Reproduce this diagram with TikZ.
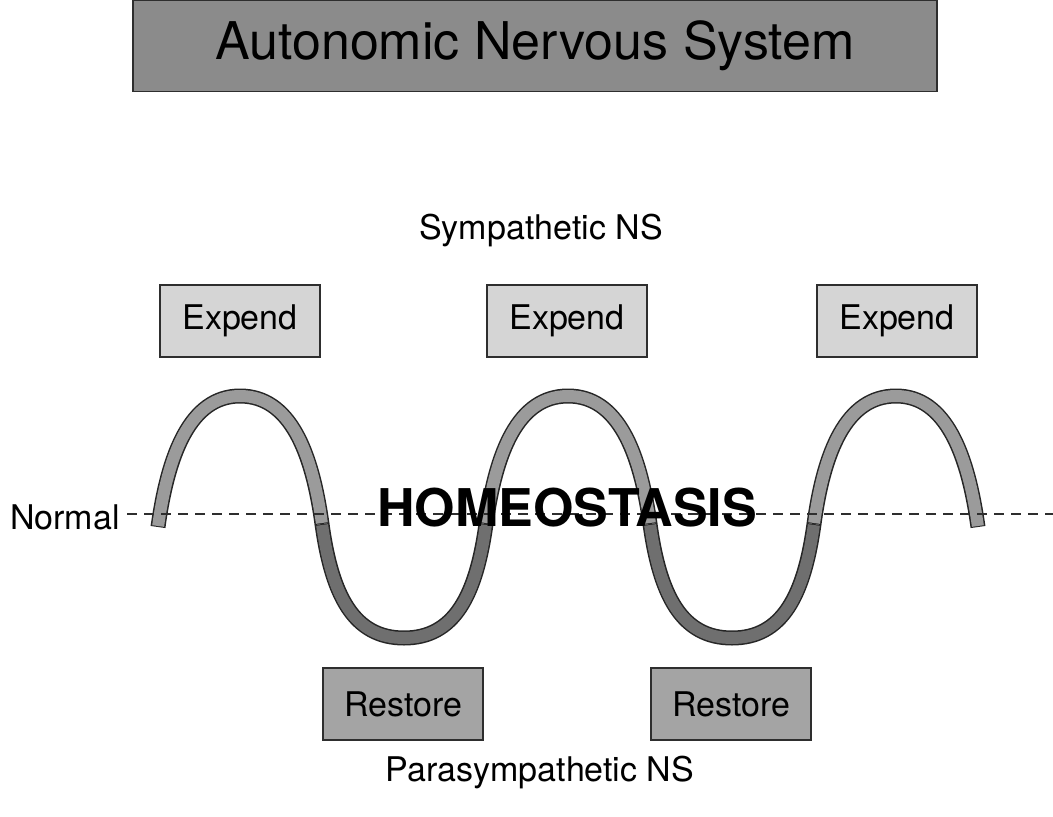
\documentclass[tikz,border=0pt]{standalone}
\usepackage{fontspec}
\setmainfont{TeX Gyre Heros}
\definecolor{titlefill}{HTML}{8B8B8B}
\definecolor{expendfill}{HTML}{D5D5D5}
\definecolor{restorefill}{HTML}{A4A4A4}
\definecolor{upperband}{HTML}{9B9B9B}
\definecolor{lowerband}{HTML}{6F6F6F}
\definecolor{edgegray}{HTML}{2E2E2E}

% half waves of the oscillation: an arch above the normal line, a trough below it
\newcommand\archseg[3]{(#1) .. controls +(10,-72) and +(-50,0) .. (#2) .. controls +(50,0) and +(-10,-72) .. (#3)}
\newcommand\troughseg[3]{(#1) .. controls +(10,72) and +(-50,0) .. (#2) .. controls +(50,0) and +(-10,72) .. (#3)}

\begin{document}
\begin{tikzpicture}[x=1pt,y=-1pt,
  bodytext/.style={font=\fontsize{34}{40}\selectfont, inner sep=0pt},
  titlebox/.style={draw=edgegray, line width=1.8pt, fill=titlefill,
    minimum width=804pt, minimum height=91pt, inner sep=0pt,
    font=\fontsize{52}{60}\selectfont},
  expendbox/.style={draw=edgegray, line width=1.8pt, fill=expendfill,
    minimum width=160pt, minimum height=72pt, inner sep=0pt,
    font=\fontsize{34}{40}\selectfont},
  restorebox/.style={expendbox, fill=restorefill},
  bandedge/.style={draw=black!85, line width=15pt, line cap=butt},
  bandup/.style={draw=upperband, line width=12pt, line cap=butt,
    shorten <=1pt, shorten >=1pt},
  banddown/.style={bandup, draw=lowerband},
  normalline/.style={draw=edgegray, line width=1.8pt, dash pattern=on 10pt off 7pt}
]
\useasboundingbox (0,0) rectangle (1053,817);

% heading
\node[titlebox] (title) at (535,46) {Autonomic Nervous System};

% branch labels
\node[bodytext] (symp) at (541,231) {Sympathetic NS};
\node[bodytext] (parasymp) at (540,772) {Parasympathetic NS};

% expend / restore boxes over the crests and troughs
\node[expendbox] (exp1) at (240,321) {Expend};
\node[expendbox] (exp2) at (567,321) {Expend};
\node[expendbox] (exp3) at (897,321) {Expend};
\node[restorebox] (res1) at (403,704) {Restore};
\node[restorebox] (res2) at (731,704) {Restore};

% wave key points
\coordinate (w0) at (158,527);
\coordinate (p1) at (240,396);
\coordinate (w1) at (322,524);
\coordinate (t1) at (404,638);
\coordinate (w2) at (486,524);
\coordinate (p2) at (568,396);
\coordinate (w3) at (650,524);
\coordinate (t2) at (732,638);
\coordinate (w4) at (814,524);
\coordinate (p3) at (896,396);
\coordinate (w5) at (978,527);

% band outline
\draw[bandedge] \archseg{w0}{p1}{w1};
\draw[bandedge] \troughseg{w1}{t1}{w2};
\draw[bandedge] \archseg{w2}{p2}{w3};
\draw[bandedge] \troughseg{w3}{t2}{w4};
\draw[bandedge] \archseg{w4}{p3}{w5};
% band fill
\draw[bandup] \archseg{w0}{p1}{w1};
\draw[banddown] \troughseg{w1}{t1}{w2};
\draw[bandup] \archseg{w2}{p2}{w3};
\draw[banddown] \troughseg{w3}{t2}{w4};
\draw[bandup] \archseg{w4}{p3}{w5};

% normal level
\node[bodytext, anchor=west] (normal) at (10,517) {Normal};
\coordinate (linestart) at (127,514);
\coordinate (lineend) at (1053,514);
\draw[normalline] (linestart) -- (lineend);

\node[font=\fontsize{52}{60}\selectfont\bfseries, inner sep=0pt] (homeo) at (567,508) {HOMEOSTASIS};
\end{tikzpicture}
\end{document}
